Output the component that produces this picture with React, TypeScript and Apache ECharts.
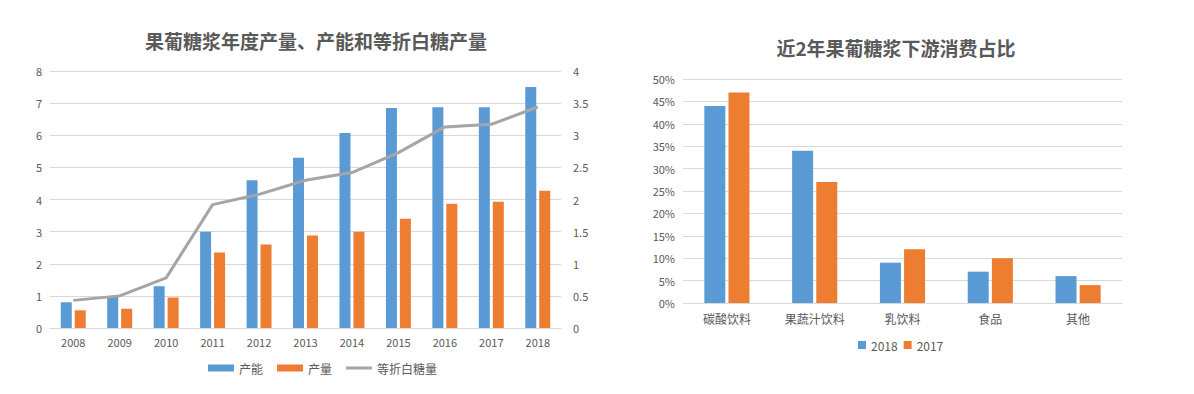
import React, { useEffect, useRef } from "react";
import * as echarts from "echarts";

const years = ["2008", "2009", "2010", "2011", "2012", "2013", "2014", "2015", "2016", "2017", "2018"];
const capacity = [0.8, 1.0, 1.3, 3.0, 4.6, 5.3, 6.07, 6.85, 6.87, 6.87, 7.5];
const output = [0.55, 0.6, 0.95, 2.35, 2.6, 2.88, 3.0, 3.4, 3.87, 3.93, 4.27];
const sugarEq = [0.43, 0.5, 0.78, 1.92, 2.08, 2.3, 2.42, 2.73, 3.13, 3.17, 3.44];

const uses = ["碳酸饮料", "果蔬汁饮料", "乳饮料", "食品", "其他"];
const share2018 = [0.44, 0.34, 0.09, 0.07, 0.06];
const share2017 = [0.47, 0.27, 0.12, 0.1, 0.04];

const FONT = "'Noto Sans CJK SC', 'Noto Sans', sans-serif";
const TXT = "#595959";
const GRID = "#D9D9D9";
const BLUE = "#5B9BD5";
const ORANGE = "#ED7D31";
const GRAY = "#A5A5A5";

export default function App() {
  const ref = useRef<HTMLDivElement>(null);
  useEffect(() => {
    document.body.style.margin = "0";
    const chart = echarts.init(ref.current!, null, { renderer: "svg" });
    const axisLabel = { color: TXT, fontSize: 11, fontFamily: FONT };
    chart.setOption({
      animation: false,
      backgroundColor: "#fff",
      textStyle: { fontFamily: FONT },
      title: [
        {
          text: "果葡糖浆年度产量、产能和等折白糖产量",
          left: 311,
          top: 26,
          textAlign: "center",
          textStyle: { color: TXT, fontSize: 19, fontWeight: "bold", fontFamily: FONT },
        },
        {
          text: "近2年果葡糖浆下游消费占比",
          left: 891,
          top: 33,
          textAlign: "center",
          textStyle: { color: TXT, fontSize: 19, fontWeight: "bold", fontFamily: FONT },
        },
      ],
      legend: [
        {
          data: [
            { name: "产能", icon: "rect" },
            { name: "产量", icon: "rect" },
            { name: "等折白糖量", icon: "path://M0,0 L26,0 L26,3 L0,3 Z" },
          ],
          left: 203,
          top: 357,
          itemWidth: 26,
          itemHeight: 7,
          itemGap: 14,
          textStyle: { color: TXT, fontSize: 12, fontFamily: FONT },
        },
        {
          data: [
            { name: "2018", icon: "rect" },
            { name: "2017", icon: "rect" },
          ],
          left: 853,
          top: 334,
          itemWidth: 8,
          itemHeight: 8,
          itemGap: 6,
          textStyle: { color: TXT, fontSize: 12, fontFamily: FONT },
        },
      ],
      grid: [
        { left: 50, top: 71, width: 511, height: 257 },
        { left: 683, top: 79, width: 439, height: 224 },
      ],
      xAxis: [
        {
          type: "category",
          gridIndex: 0,
          data: years,
          axisLine: { lineStyle: { color: GRID } },
          axisTick: { show: false },
          axisLabel: { ...axisLabel, margin: 8 },
        },
        {
          type: "category",
          gridIndex: 1,
          data: uses,
          axisLine: { lineStyle: { color: GRID } },
          axisTick: { show: false },
          axisLabel: { ...axisLabel, fontSize: 12, margin: 9 },
        },
      ],
      yAxis: [
        {
          type: "value",
          gridIndex: 0,
          min: 0,
          max: 8,
          interval: 1,
          axisLine: { show: false },
          axisTick: { show: false },
          splitLine: { lineStyle: { color: GRID } },
          axisLabel: { ...axisLabel, margin: 8 },
        },
        {
          type: "value",
          gridIndex: 0,
          position: "right",
          min: 0,
          max: 4,
          interval: 0.5,
          axisLine: { show: false },
          axisTick: { show: false },
          splitLine: { show: false },
          axisLabel: { ...axisLabel, margin: 12 },
        },
        {
          type: "value",
          gridIndex: 1,
          min: 0,
          max: 0.5,
          interval: 0.05,
          axisLine: { show: false },
          axisTick: { show: false },
          splitLine: { lineStyle: { color: GRID } },
          axisLabel: {
            ...axisLabel,
            margin: 8,
            formatter: (v: number) => Math.round(v * 100) + "%",
          },
        },
      ],
      series: [
        {
          name: "产能",
          type: "bar",
          xAxisIndex: 0,
          yAxisIndex: 0,
          data: capacity,
          barWidth: 11,
          barGap: "27%",
          itemStyle: { color: BLUE },
        },
        {
          name: "产量",
          type: "bar",
          xAxisIndex: 0,
          yAxisIndex: 0,
          data: output,
          barWidth: 11,
          barGap: "27%",
          itemStyle: { color: ORANGE },
        },
        {
          name: "等折白糖量",
          type: "line",
          xAxisIndex: 0,
          yAxisIndex: 1,
          data: sugarEq,
          symbol: "none",
          lineStyle: { color: GRAY, width: 3 },
          itemStyle: { color: GRAY },
        },
        {
          name: "2018",
          type: "bar",
          xAxisIndex: 1,
          yAxisIndex: 2,
          data: share2018,
          barWidth: 21,
          barGap: "15%",
          itemStyle: { color: BLUE },
        },
        {
          name: "2017",
          type: "bar",
          xAxisIndex: 1,
          yAxisIndex: 2,
          data: share2017,
          barWidth: 21,
          barGap: "15%",
          itemStyle: { color: ORANGE },
        },
      ],
    });
    return () => chart.dispose();
  }, []);
  return <div ref={ref} style={{ width: 1194, height: 394 }} />;
}
